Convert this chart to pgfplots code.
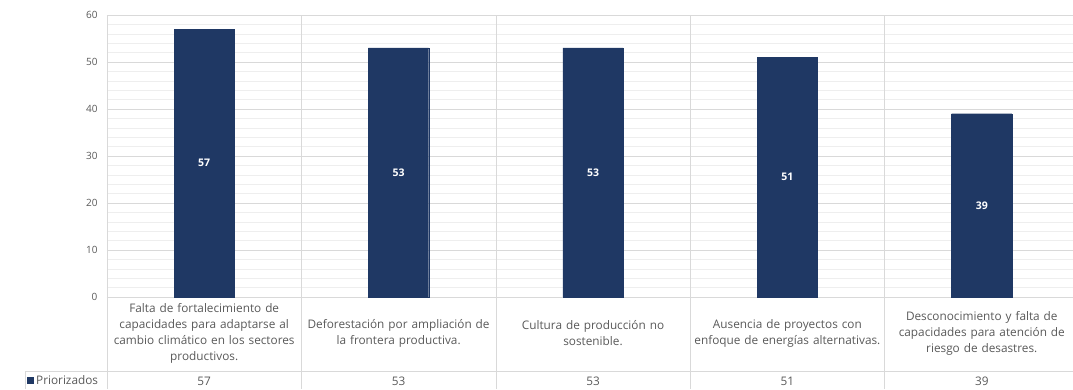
\documentclass[border=0pt]{standalone}
\usepackage{pgfplots}
\pgfplotsset{compat=1.18}
\usepackage{fontspec}
\setmainfont{Open Sans}

\definecolor{barc}{RGB}{31,56,100}
\definecolor{txt}{RGB}{89,89,89}
\definecolor{gridc}{RGB}{217,217,217}
\definecolor{minorc}{RGB}{238,238,238}

\begin{document}
\begin{tikzpicture}
\useasboundingbox (-107pt,-92pt) rectangle (966pt,297pt);
\begin{axis}[
    at={(0pt,0pt)}, anchor=south west,
    scale only axis,
    width=972pt, height=282pt,
    xmin=0, xmax=5,
    ymin=0, ymax=60,
    clip=false,
    axis line style={draw=none},
    ytick={0,10,...,60},
    minor y tick num=4,
    ymajorgrids, yminorgrids,
    major grid style={gridc, line width=0.6pt},
    minor grid style={minorc, line width=0.5pt},
    major tick length=0pt, minor tick length=0pt,
    yticklabel style={font=\fontsize{10}{11}\selectfont, text=txt, xshift=-6pt},
    /pgf/number format/assume math mode=true,
    xtick={0.5,1.5,2.5,3.5,4.5},
    xticklabels={
        {Falta de fortalecimiento de\\capacidades para adaptarse al\\cambio climático en los sectores\\productivos.},
        {Deforestación por ampliación de\\la frontera productiva.},
        {Cultura de producción no\\sostenible.},
        {Ausencia de proyectos con\\enfoque de energías alternativas.},
        {Desconocimiento y falta de\\capacidades para atención de\\riesgo de desastres.}},
    xticklabel style={font=\fontsize{11.8}{16}\selectfont, text=txt,
        align=center, text width=194pt, anchor=center, yshift=-36pt},
    extra x ticks={0.5,1.5,2.5,3.5,4.5},
    extra x tick labels={57,53,53,51,39},
    extra x tick style={xticklabel style={yshift=-48pt}},
]
\addplot[ybar, bar width=0.31, fill=barc, draw=barc,
    visualization depends on={y \as \rawy},
    nodes near coords,
    every node near coord/.append style={anchor=center, text=white,
        font=\bfseries\fontsize{10.5}{12}\selectfont,
        shift={(axis direction cs:0,-\rawy/2)}}]
    coordinates {(0.5,57) (1.5,53) (2.5,53) (3.5,51) (4.5,39)};

% table and category separators
\pgfplotsinvokeforeach{0,1,2,3,4,5}{
    \draw[gridc, line width=0.6pt] (axis cs:#1,60) -- ([yshift=-92pt]axis cs:#1,0);
}
\draw[gridc, line width=0.6pt] ([xshift=-82pt,yshift=-74pt]rel axis cs:0,0) -- ([yshift=-74pt]rel axis cs:1,0);
\draw[gridc, line width=0.6pt] ([xshift=-82pt,yshift=-74pt]rel axis cs:0,0) -- ([xshift=-82pt,yshift=-92pt]rel axis cs:0,0);
\node[anchor=west, inner sep=0pt, text=txt, font=\fontsize{11.8}{12}\selectfont]
    at ([xshift=-80pt,yshift=-83pt]rel axis cs:0,0) {\textcolor{barc}{\rule{7pt}{7pt}}\,Priorizados};
\end{axis}
\end{tikzpicture}
\end{document}
